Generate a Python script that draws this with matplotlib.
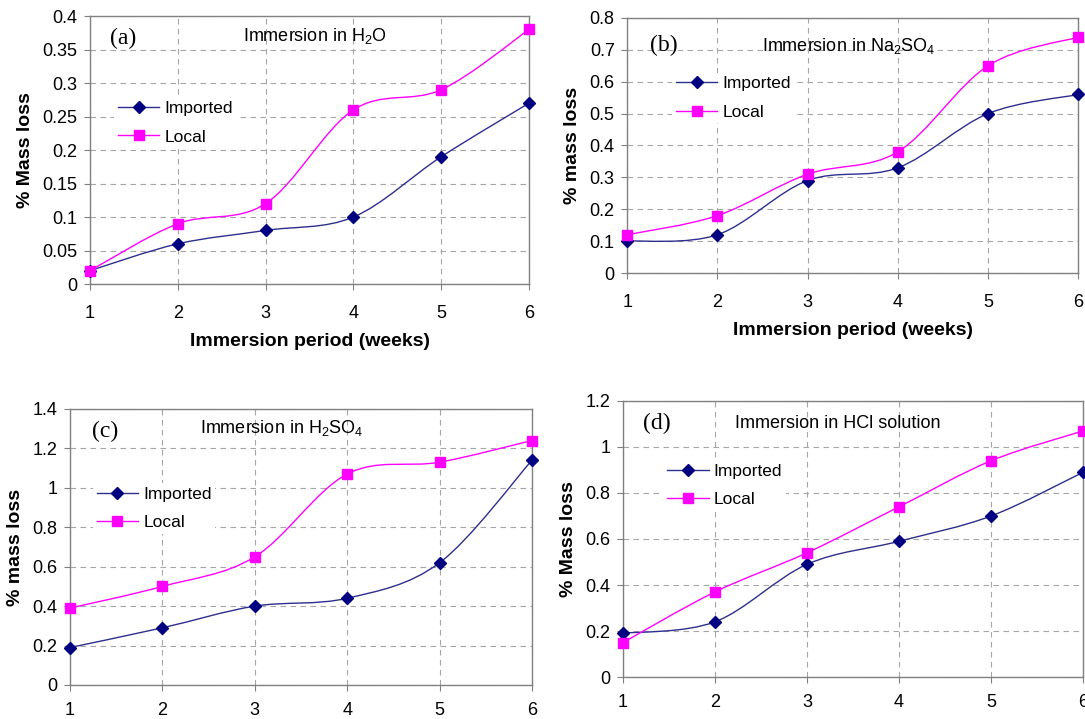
import matplotlib
matplotlib.use("Agg")
import matplotlib.pyplot as plt
from matplotlib.path import Path
from matplotlib.patches import PathPatch
from matplotlib.lines import Line2D

plt.rcParams['font.family'] = ['Liberation Sans', 'DejaVu Sans']

# Données
semaines = [1, 2, 3, 4, 5, 6]

h2o_imported = [0.02, 0.06, 0.08, 0.10, 0.19, 0.27]
h2o_local = [0.02, 0.09, 0.12, 0.26, 0.29, 0.38]

na2so4_imported = [0.10, 0.12, 0.29, 0.33, 0.50, 0.56]
na2so4_local = [0.12, 0.18, 0.31, 0.38, 0.65, 0.74]

h2so4_imported = [0.19, 0.29, 0.40, 0.44, 0.62, 1.14]
h2so4_local = [0.39, 0.50, 0.65, 1.07, 1.13, 1.24]

hcl_imported = [0.19, 0.24, 0.49, 0.59, 0.70, 0.89]
hcl_local = [0.15, 0.37, 0.54, 0.74, 0.94, 1.07]

COL_IMP = "#000080"
COL_IMP_LINE = "#2E2E8F"
COL_LOC = "#FF00FF"
GRID = "#A6A6A6"
SPINE = "#808080"


def courbe_lissee(ax, x, y, couleur):
    """Courbe lissée (type Excel) avec des segments de Bézier."""
    n = len(x)
    verts = [(x[0], y[0])]
    codes = [Path.MOVETO]
    for i in range(n - 1):
        xp, yp = (x[i - 1], y[i - 1]) if i > 0 else (x[i], y[i])
        xn, yn = (x[i + 2], y[i + 2]) if i + 2 < n else (x[i + 1], y[i + 1])
        c1 = (x[i] + (x[i + 1] - xp) / 6, y[i] + (y[i + 1] - yp) / 6)
        c2 = (x[i + 1] - (xn - x[i]) / 6, y[i + 1] - (yn - y[i]) / 6)
        verts += [c1, c2, (x[i + 1], y[i + 1])]
        codes += [Path.CURVE4] * 3
    patch = PathPatch(Path(verts, codes), facecolor="none", edgecolor=couleur,
                      lw=1.0, transform=ax.transData, zorder=3)
    ax.add_patch(patch)


def panneau(rect, imp, loc, ymax, ystep, lettre, titre, ylabel, leg_xy,
            lettre_xy, titre_xy, xlabel=True):
    ax = fig.add_axes(rect)
    courbe_lissee(ax, semaines, imp, COL_IMP_LINE)
    courbe_lissee(ax, semaines, loc, COL_LOC)
    ax.plot(semaines, imp, ls="none", marker="D", ms=6.5, color=COL_IMP, zorder=4, clip_on=False)
    ax.plot(semaines, loc, ls="none", marker="s", ms=7, color=COL_LOC, zorder=4, clip_on=False)

    ax.set_xlim(1, 6)
    ax.set_ylim(0, ymax)
    ax.set_xticks(semaines)
    nb = int(round(ymax / ystep))
    yt = [round(i * ystep, 3) for i in range(nb + 1)]
    ax.set_yticks(yt)
    ax.set_yticklabels([f"{v:g}" for v in yt])
    ax.grid(True, ls=(0, (5, 4)), color=GRID, lw=0.8)
    ax.set_axisbelow(True)
    for s in ax.spines.values():
        s.set_color(SPINE)
        s.set_linewidth(1.0)
    ax.tick_params(direction="out", length=4, color=SPINE, labelsize=13)
    ax.tick_params(axis="y", pad=5)
    ax.tick_params(axis="x", pad=11 if xlabel else 8)

    ax.set_ylabel(ylabel, fontsize=14, fontweight="bold", labelpad=6)
    if xlabel:
        ax.set_xlabel("Immersion period (weeks)", fontsize=14, fontweight="bold", labelpad=8)

    ax.text(lettre_xy[0], lettre_xy[1], lettre, transform=ax.transAxes,
            family="Liberation Serif", fontsize=17, va="center", ha="left")
    ax.text(titre_xy[0], titre_xy[1], titre, transform=ax.transAxes,
            fontsize=13, va="center", ha="left")

    handles = [Line2D([], [], color=COL_IMP_LINE, marker="D", ms=6.5, mfc=COL_IMP, mec=COL_IMP, lw=1.0),
               Line2D([], [], color=COL_LOC, marker="s", ms=7, lw=1.0)]
    ax.legend(handles, ["Imported", "Local"], loc="upper left", bbox_to_anchor=leg_xy,
              fontsize=12.5, frameon=True, edgecolor="none", facecolor="white",
              framealpha=1, handlelength=2.4, handletextpad=0.3, borderpad=0.2,
              labelspacing=0.75, borderaxespad=0)
    return ax


fig = plt.figure(figsize=(10.85, 7.19), dpi=100)

panneau([0.083, 0.605, 0.4046, 0.3727], h2o_imported, h2o_local, 0.4, 0.05, "(a)",
        r"Immersion in H$_\mathregular{2}$O", "% Mass loss", (0.055, 0.695),
        (0.045, 0.918), (0.349, 0.925))
panneau([0.578, 0.6203, 0.4157, 0.3547], na2so4_imported, na2so4_local, 0.8, 0.1, "(b)",
        r"Immersion in Na$_\mathregular{2}$SO$_\mathregular{4}$", "% mass loss", (0.10, 0.785),
        (0.051, 0.894), (0.30, 0.89))
panneau([0.0645, 0.0473, 0.4258, 0.3839], h2so4_imported, h2so4_local, 1.4, 0.2, "(c)",
        r"Immersion in H$_\mathregular{2}$SO$_\mathregular{4}$", "% mass loss", (0.05, 0.73),
        (0.048, 0.917), (0.281, 0.931), xlabel=False)
panneau([0.5742, 0.0584, 0.424, 0.3839], hcl_imported, hcl_local, 1.2, 0.2, "(d)",
        "Immersion in HCl solution", "% Mass loss", (0.088, 0.785),
        (0.043, 0.917), (0.243, 0.92), xlabel=False)

plt.savefig("out.png", dpi=100)
plt.close()
